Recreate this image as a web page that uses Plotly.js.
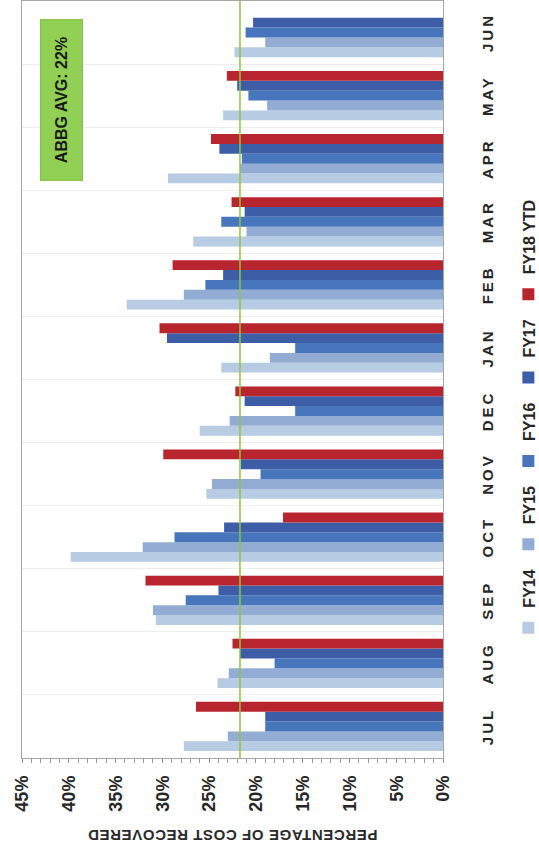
<!DOCTYPE html>
<html>
<head>
<meta charset="utf-8">
<script src="https://cdn.plot.ly/plotly-3.0.1.min.js"></script>
<style>
  html, body { margin: 0; padding: 0; background: #ffffff; overflow: hidden; }
  body { width: 539px; height: 853px; position: relative; }
  #chart {
    position: absolute; left: 0; top: 0;
    width: 853px; height: 539px;
    transform-origin: 0 0;
    transform: translate(0px, 853px) rotate(-90deg);
  }
  #chart .xtick text { letter-spacing: 3px; }
  #chart .ytitle { letter-spacing: 0.6px; }
</style>
</head>
<body>
<div id="chart"></div>
<script>
// ---- data ----
var months = ["JUL", "AUG", "SEP", "OCT", "NOV", "DEC", "JAN", "FEB", "MAR", "APR", "MAY", "JUN"];
var seriesNames = ["FY14", "FY15", "FY16", "FY17", "FY18 YTD"];
var fy14 = [27.7, 24.1, 30.7, 39.8, 25.3, 26.0, 23.7, 33.8, 26.7, 29.4, 23.5, 22.3];
var fy15 = [23.0, 22.9, 31.0, 32.1, 24.7, 22.8, 18.5, 27.7, 21.0, 21.7, 18.8, 19.0];
var fy16 = [19.0, 18.0, 27.5, 28.7, 19.5, 15.8, 15.8, 25.4, 23.7, 21.5, 20.8, 21.1];
var fy17 = [19.0, 21.7, 24.0, 23.4, 21.6, 21.2, 29.5, 23.5, 21.2, 23.9, 22.0, 20.3];
var fy18 = [26.4, 22.5, 31.8, 17.1, 29.9, 22.2, 30.3, 28.9, 22.6, 24.8, 23.1, null];
var abbgAvg = 21.7;
var abbgLabel = "ABBG AVG: 22%";
var yTickVals = [0, 5, 10, 15, 20, 25, 30, 35, 40, 45];
var yTickText = ["0%", "5%", "10%", "15%", "20%", "25%", "30%", "35%", "40%", "45%"];

var colors = ["#b7cce2", "#93acd4", "#4776bd", "#3d5ea6", "#b8252f"];
var values = [fy14, fy15, fy16, fy17, fy18];

var traces = values.map(function (v, i) {
  return {
    type: "bar",
    name: seriesNames[i],
    x: months,
    y: v,
    marker: { color: colors[i] },
    hoverinfo: "x+y+name"
  };
});

var layout = {
  width: 853,
  height: 539,
  margin: { l: 95, r: 1, t: 22, b: 96, autoexpand: false },
  paper_bgcolor: "#ffffff",
  plot_bgcolor: "#ffffff",
  barmode: "group",
  bargap: 0.22,
  bargroupgap: 0,
  font: { family: "Liberation Sans, Arial, sans-serif", color: "#262626" },
  xaxis: {
    type: "category",
    categoryorder: "array",
    categoryarray: months,
    tickson: "boundaries",
    showgrid: true,
    gridcolor: "#ededed",
    gridwidth: 1,
    ticks: "",
    ticklabelstandoff: 31,
    tickfont: { family: "Liberation Sans, Arial, sans-serif", size: 15, color: "#262626", weight: "bold" },
    showline: true,
    linecolor: "#a6a6a6",
    linewidth: 1,
    mirror: true,
    zeroline: false,
    fixedrange: true
  },
  yaxis: {
    range: [0, 45],
    tickvals: yTickVals,
    ticktext: yTickText,
    ticks: "outside",
    ticklen: 4,
    tickcolor: "#8c8c8c",
    minor: { dtick: 1, ticks: "outside", ticklen: 4, tickcolor: "#9a9a9a", showgrid: false },
    ticklabelstandoff: 9,
    showgrid: false,
    zeroline: false,
    showline: true,
    linecolor: "#a6a6a6",
    linewidth: 1,
    mirror: true,
    tickfont: { family: "Liberation Sans, Arial, sans-serif", size: 18, color: "#262626", weight: "bold" },
    title: {
      text: "PERCENTAGE OF COST RECOVERED",
      font: { family: "Liberation Sans, Arial, sans-serif", size: 15, color: "#2a2a2a", weight: "bold" },
      standoff: 14
    },
    fixedrange: true
  },
  yaxis2: {
    overlaying: "y",
    side: "left",
    anchor: "x",
    range: [0, 45],
    tickvals: yTickVals,
    ticks: "inside",
    ticklen: 4,
    tickcolor: "#8c8c8c",
    minor: { dtick: 1, ticks: "inside", ticklen: 4, tickcolor: "#9a9a9a", showgrid: false },
    showticklabels: false,
    showgrid: false,
    zeroline: false,
    showline: false,
    fixedrange: true
  },
  showlegend: true,
  legend: {
    orientation: "h",
    xref: "paper",
    yref: "paper",
    x: 0.445,
    xanchor: "center",
    y: -0.203,
    yanchor: "middle",
    itemwidth: 30,
    traceorder: "normal",
    font: { family: "Liberation Sans Narrow, Liberation Sans, Arial, sans-serif", size: 16, color: "#262626", weight: "bold" },
    bgcolor: "rgba(0,0,0,0)"
  },
  shapes: [{
    type: "line",
    xref: "paper",
    x0: 0,
    x1: 1,
    yref: "y",
    y0: abbgAvg,
    y1: abbgAvg,
    line: { color: "#8dc63f", width: 1.5 },
    layer: "above"
  }],
  annotations: [{
    xref: "paper",
    yref: "paper",
    x: 0.869,
    y: 0.907,
    xanchor: "center",
    yanchor: "middle",
    text: "<b>" + abbgLabel + "</b>",
    showarrow: false,
    font: { family: "Liberation Sans, Arial, sans-serif", size: 16, color: "#1a1a1a" },
    bgcolor: "#92cf55",
    bordercolor: "#86bf4c",
    borderwidth: 1,
    width: 158,
    height: 39,
    align: "center",
    valign: "middle"
  }]
};

Plotly.newPlot("chart", traces, layout, { displayModeBar: false, staticPlot: true });
</script>
</body>
</html>
